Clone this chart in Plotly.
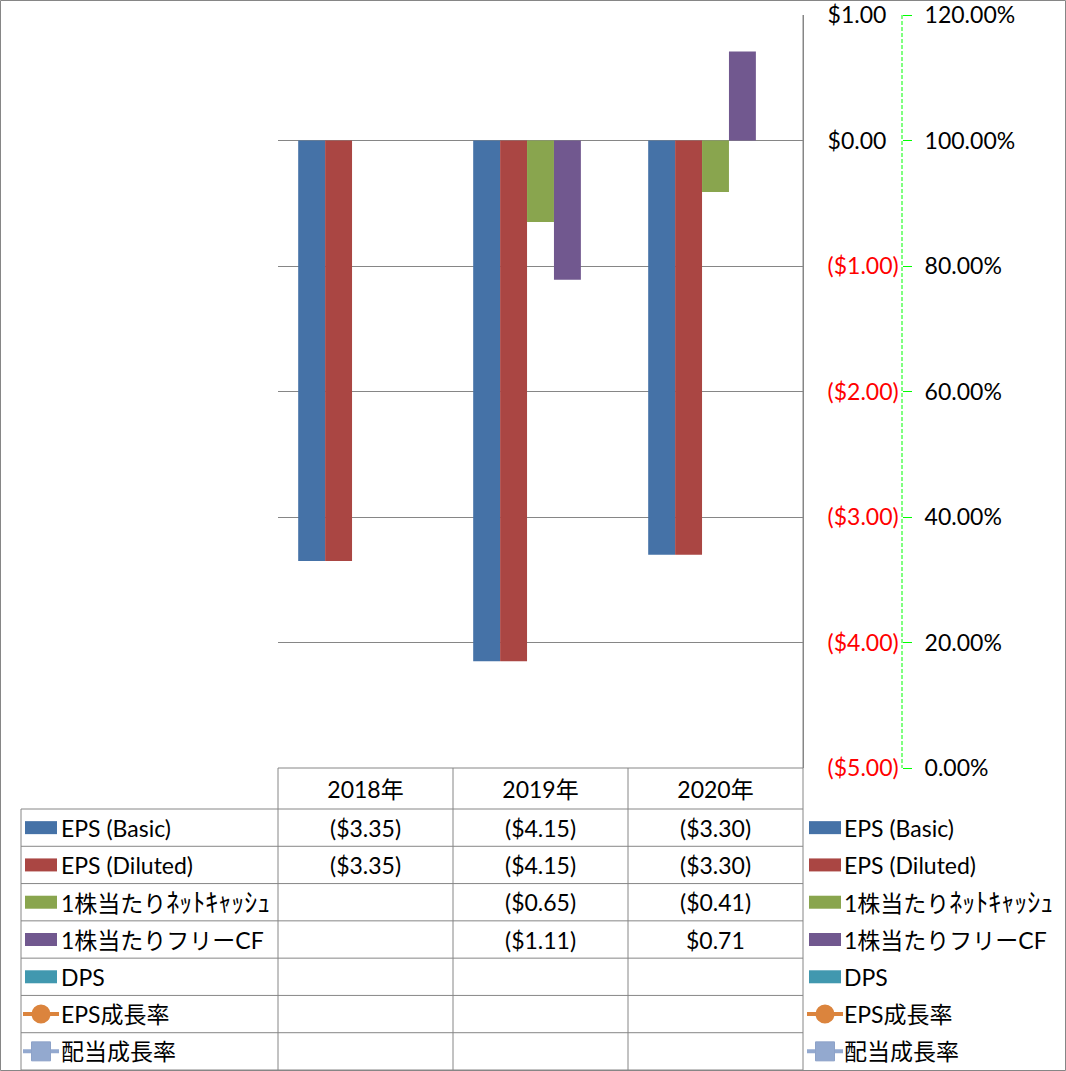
import plotly.graph_objects as go

# ---------------- data ----------------
years = ["2018年", "2019年", "2020年"]
eps_basic = [-3.35, -4.15, -3.30]
eps_diluted = [-3.35, -4.15, -3.30]
net_cash_ps = [None, -0.65, -0.41]
fcf_ps = [None, -1.11, 0.71]
dps = [None, None, None]
eps_growth = [None, None, None]
div_growth = [None, None, None]

bar_names = ["EPS (Basic)", "EPS (Diluted)", "1株当たりﾈｯﾄｷｬｯｼｭ", "1株当たりフリーCF", "DPS"]
line_names = ["EPS成長率", "配当成長率"]
bar_colors = ["#4572A7", "#AA4643", "#89A54E", "#71588F", "#4198AF"]
line_colors = ["#DB843D", "#93A9CF"]

y_ticks = [-5, -4, -3, -2, -1, 0, 1]
y2_ticks = [0, 0.2, 0.4, 0.6, 0.8, 1.0, 1.2]

# ---------------- geometry helpers ----------------
W, H = 1066, 1071
FONT = "Lato, 'Noto Sans CJK JP', sans-serif"
FS = 23
FS_NAME = 23
GRID = "#868686"


def px(x):
    return x / W


def py(y):
    return 1 - y / H


def fmt_money(v):
    if v is None:
        return ""
    if v < 0:
        return "(${:.2f})".format(-v)
    return "${:.2f}".format(v)


def axis_label(v):
    t = fmt_money(v)
    if v < 0:
        return "<span style='color:#FF0000'>" + t + "</span>"
    return t


def name_label(t):
    # half-width katakana rendered slightly larger, as in the original
    out = ""
    run = ""
    for ch in t:
        if "\uff61" <= ch <= "\uff9f":
            run += ch
        else:
            if run:
                out += "<span style='font-size:26px'>" + run + "</span>"
                run = ""
            out += ch
    if run:
        out += "<span style='font-size:26px'>" + run + "</span>"
    return out


bar_series = [eps_basic, eps_diluted, net_cash_ps, fcf_ps, dps]
line_series = [eps_growth, div_growth]

fig = go.Figure()
for name, vals, col in zip(bar_names, bar_series, bar_colors):
    fig.add_trace(go.Bar(x=years, y=vals, name=name, marker_color=col,
                         marker_line_width=0, showlegend=False))
for name, vals, col in zip(line_names, line_series, line_colors):
    fig.add_trace(go.Scatter(x=years, y=vals, name=name, yaxis="y2",
                             mode="lines+markers", line=dict(color=col, width=4),
                             showlegend=False))

# ---------------- table / legend ----------------
TBL_TOP = 768
ROW_TOP = 809
ROW_BOT = 1070
n_rows = 7
row_h = (ROW_BOT - ROW_TOP) / n_rows
LBL_L = 21
COLS = [278, 453, 628, 803]

shapes = []
annotations = []


def hline(x0, x1, y, color=GRID, width=1):
    shapes.append(dict(type="line", xref="paper", yref="paper",
                       x0=px(x0), x1=px(x1), y0=py(y), y1=py(y),
                       line=dict(color=color, width=width)))


def vline(x, y0, y1, color=GRID, width=1, dash="solid"):
    shapes.append(dict(type="line", xref="paper", yref="paper",
                       x0=px(x), x1=px(x), y0=py(y0), y1=py(y1),
                       line=dict(color=color, width=width, dash=dash)))


# outer border
shapes.append(dict(type="rect", xref="paper", yref="paper",
                   x0=px(0.5), x1=px(1065.5), y0=py(1070.5), y1=py(0.5),
                   line=dict(color=GRID, width=1)))

hline(COLS[0], COLS[-1], TBL_TOP)
for i in range(n_rows + 1):
    hline(LBL_L, COLS[-1], ROW_TOP + i * row_h)
vline(LBL_L, ROW_TOP, ROW_BOT)
for c in COLS[:-1]:
    vline(c, TBL_TOP, ROW_BOT)
vline(COLS[-1], 15, ROW_BOT)

# secondary axis dashed line
vline(902, 15, 768, color="#00FF00", width=1, dash="4px,2px")

all_names = bar_names + line_names
all_colors = bar_colors + line_colors
col_centers = [(COLS[i] + COLS[i + 1]) / 2 for i in range(3)]


def key(cx, cy, idx):
    col = all_colors[idx]
    if idx < len(bar_names):
        shapes.append(dict(type="rect", xref="paper", yref="paper",
                           x0=px(cx - 16), x1=px(cx + 16), y0=py(cy + 6.5), y1=py(cy - 6.5),
                           fillcolor=col, line=dict(width=0)))
    else:
        shapes.append(dict(type="line", xref="paper", yref="paper",
                           x0=px(cx - 18), x1=px(cx + 18), y0=py(cy), y1=py(cy),
                           line=dict(color=col, width=4)))
        if idx == len(bar_names):
            shapes.append(dict(type="circle", xref="paper", yref="paper",
                               x0=px(cx - 9.5), x1=px(cx + 9.5), y0=py(cy + 9.5), y1=py(cy - 9.5),
                               fillcolor=col, line=dict(color=col, width=0)))
        else:
            shapes.append(dict(type="rect", xref="paper", yref="paper",
                               x0=px(cx - 9.5), x1=px(cx + 9.5), y0=py(cy + 9.5), y1=py(cy - 9.5),
                               fillcolor=col, line=dict(color="#8DA2C8", width=1)))


all_series = bar_series + line_series
for r, (name, vals) in enumerate(zip(all_names, all_series)):
    cy = ROW_TOP + (r + 0.5) * row_h
    # table row label
    key(41, cy, r)
    annotations.append(dict(xref="paper", yref="paper", x=px(59), y=py(cy),
                            xanchor="left", yanchor="middle", showarrow=False,
                            text=name_label(name),
                            font=dict(family=FONT, size=FS_NAME, color="black")))
    # cells
    for c, v in enumerate(vals):
        if v is None:
            continue
        annotations.append(dict(xref="paper", yref="paper", x=px(col_centers[c]), y=py(cy),
                                xanchor="center", yanchor="middle", showarrow=False,
                                text=fmt_money(v), font=dict(family=FONT, size=FS, color="black")))
    # right legend
    key(825, cy, r)
    annotations.append(dict(xref="paper", yref="paper", x=px(842), y=py(cy),
                            xanchor="left", yanchor="middle", showarrow=False,
                            text=name_label(name),
                            font=dict(family=FONT, size=FS_NAME, color="black")))

fig.update_layout(
    width=W, height=H,
    margin=dict(l=0, r=0, t=0, b=0, autoexpand=False),
    paper_bgcolor="white", plot_bgcolor="white",
    barmode="group", bargap=1.5 / 6.5, bargroupgap=0,
    showlegend=False,
    font=dict(family=FONT, size=FS, color="black"),
    xaxis=dict(domain=[px(278), px(803)], showline=False, showgrid=False,
               ticks="", ticklabelstandoff=6, automargin=False,
               tickfont=dict(family=FONT, size=FS)),
    yaxis=dict(domain=[py(768), py(15)], range=[-5, 1], side="right", anchor="x",
               tickvals=y_ticks, ticktext=[axis_label(v) for v in y_ticks],
               showgrid=True, gridcolor=GRID, gridwidth=1, zeroline=False,
               showline=True, linecolor=GRID, linewidth=1, ticks="", automargin=False,
               ticklabelstandoff=19, tickfont=dict(family=FONT, size=FS, color="black")),
    yaxis2=dict(overlaying="y", side="right", anchor="free", position=px(902),
                range=[0, 1.2], tickvals=y2_ticks, tickformat=".2%",
                ticks="outside", ticklen=9, tickcolor="#00FF00", tickwidth=1,
                showgrid=False, showline=False, zeroline=False, automargin=False,
                ticklabelstandoff=8, tickfont=dict(family=FONT, size=FS, color="black")),
    shapes=shapes,
    annotations=annotations,
)

fig.write_html("out.html", config={"displayModeBar": False},
               post_script="document.body.style.margin='0';")
